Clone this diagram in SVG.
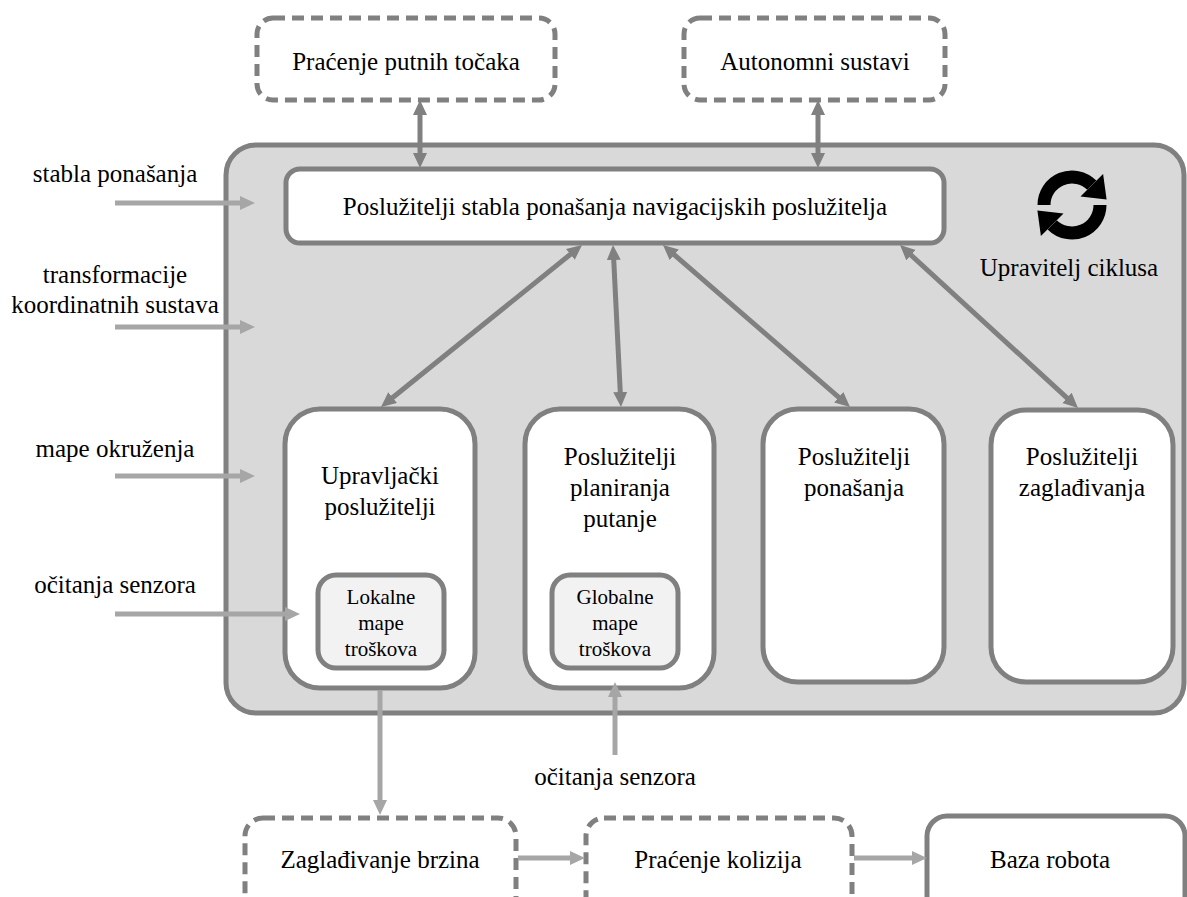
<svg xmlns="http://www.w3.org/2000/svg" width="1187" height="897" viewBox="0 0 1187 897">
<style>
text{font-family:"Liberation Serif","DejaVu Serif",serif;font-size:25px;fill:#000;text-anchor:middle}
.small{font-size:21px}
.box{fill:#fff;stroke:#808080;stroke-width:5}
.dash{fill:#fff;stroke:#808080;stroke-width:5;stroke-dasharray:12 7}
.inner{fill:#f2f2f2;stroke:#808080;stroke-width:5}
.dk{stroke:#808080;stroke-width:5;fill:none;marker-start:url(#hd);marker-end:url(#hd)}
.lt{stroke:#a6a6a6;stroke-width:5;fill:none;marker-end:url(#hl)}
</style>
<defs>
<marker id="hd" markerUnits="userSpaceOnUse" markerWidth="16" markerHeight="16" refX="7" refY="7" orient="auto-start-reverse"><path d="M0,0 L15,7 L0,14 z" fill="#808080"/></marker>
<marker id="hl" markerUnits="userSpaceOnUse" markerWidth="16" markerHeight="16" refX="7" refY="7" orient="auto"><path d="M0,0 L15,7 L0,14 z" fill="#a6a6a6"/></marker>
</defs>
<rect width="1187" height="897" fill="#fff"/>
<g id="container"><rect x="226" y="145" width="958" height="568" rx="30" fill="#d9d9d9" stroke="#808080" stroke-width="5"/></g>
<g id="pracenje-putnih"><rect class="dash" x="257" y="18" width="298" height="82" rx="16"/><text x="406" y="70">Praćenje putnih točaka</text></g>
<g id="autonomni"><rect class="dash" x="684" y="18" width="261" height="82" rx="16"/><text x="815" y="70">Autonomni sustavi</text></g>
<g id="bt-server"><rect class="box" x="286" y="169" width="658" height="74" rx="14"/><text x="615" y="215">Poslužitelji stabla ponašanja navigacijskih poslužitelja</text></g>
<g id="lifecycle">
<path d="M1044,205 A28,28 0 0 1 1091.8,185.2" fill="none" stroke="#000" stroke-width="13"/>
<path d="M1103.1,173.9 L1106.6,199.4 L1080.5,196.5 z" fill="#000"/>
<path d="M1100,205 A28,28 0 0 1 1052.2,224.8" fill="none" stroke="#000" stroke-width="13"/>
<path d="M1040.9,236.1 L1037.4,210.6 L1063.5,213.5 z" fill="#000"/>
<text x="1069" y="276">Upravitelj ciklusa</text>
</g>
<g id="controller"><rect class="box" x="285" y="409" width="190" height="279" rx="35"/><text x="380" y="484">Upravljački</text><text x="380" y="515">poslužitelji</text></g>
<g id="local-costmap"><rect class="inner" x="318" y="575" width="126" height="93" rx="18"/><text class="small" x="381" y="604">Lokalne</text><text class="small" x="381" y="630">mape</text><text class="small" x="381" y="656">troškova</text></g>
<g id="planner"><rect class="box" x="525" y="409" width="189" height="279" rx="35"/><text x="620" y="465">Poslužitelji</text><text x="620" y="496">planiranja</text><text x="620" y="527">putanje</text></g>
<g id="global-costmap"><rect class="inner" x="552" y="575" width="126" height="93" rx="18"/><text class="small" x="615" y="604">Globalne</text><text class="small" x="615" y="630">mape</text><text class="small" x="615" y="656">troškova</text></g>
<g id="behavior"><rect class="box" x="763" y="409" width="181" height="273" rx="35"/><text x="854" y="465">Poslužitelji</text><text x="854" y="496">ponašanja</text></g>
<g id="smoother"><rect class="box" x="991" y="410" width="182" height="272" rx="35"/><text x="1082" y="465">Poslužitelji</text><text x="1082" y="496">zaglađivanja</text></g>
<g id="velocity-smoother"><rect class="dash" x="245" y="818" width="271" height="120" rx="18"/><text x="380" y="868">Zaglađivanje brzina</text></g>
<g id="collision-monitor"><rect class="dash" x="586" y="818" width="266" height="120" rx="18"/><text x="718" y="868">Praćenje kolizija</text></g>
<g id="robot-base"><rect class="box" x="927" y="816" width="258" height="120" rx="20"/><text x="1050" y="868">Baza robota</text></g>
<g id="labels">
<text x="115" y="182">stabla ponašanja</text>
<text x="115" y="283">transformacije</text>
<text x="115" y="313">koordinatnih sustava</text>
<text x="115" y="457">mape okruženja</text>
<text x="115" y="593">očitanja senzora</text>
<text x="615" y="785">očitanja senzora</text>
</g>
<g id="connectors">
<line class="dk" x1="420" y1="108" x2="420" y2="160"/>
<line class="dk" x1="818" y1="108" x2="818" y2="160"/>
<line class="dk" x1="575.8" y1="250" x2="387.2" y2="402"/>
<line class="dk" x1="613.4" y1="253" x2="620.6" y2="399"/>
<line class="dk" x1="669" y1="250.2" x2="844" y2="401.8"/>
<line class="dk" x1="905.9" y1="250.4" x2="1072.1" y2="402.6"/>
<line class="lt" x1="115" y1="203" x2="247" y2="203"/>
<line class="lt" x1="115" y1="327" x2="247" y2="327"/>
<line class="lt" x1="115" y1="476" x2="247" y2="476"/>
<line class="lt" x1="115" y1="614" x2="292" y2="614"/>
<line class="lt" x1="380" y1="690" x2="380" y2="807"/>
<line class="lt" x1="615" y1="755" x2="615" y2="690"/>
<line class="lt" x1="518" y1="858" x2="577" y2="858"/>
<line class="lt" x1="854" y1="858" x2="919" y2="858"/>
</g>
</svg>
